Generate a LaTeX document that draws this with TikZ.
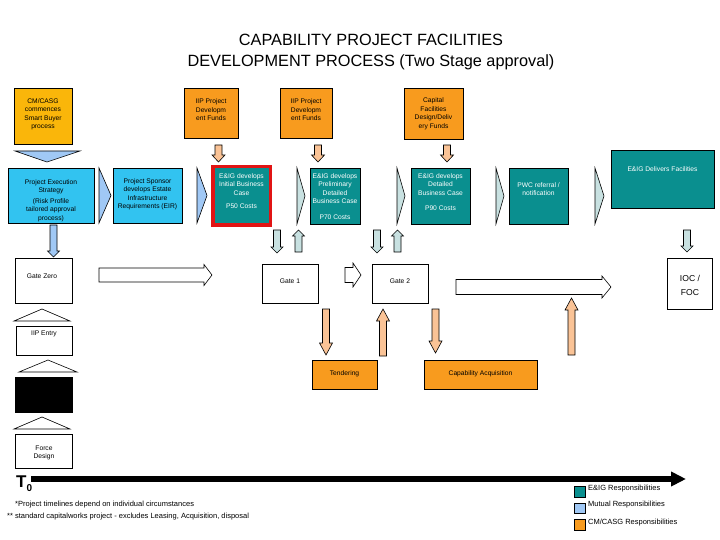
\documentclass[tikz,border=0pt]{standalone}
\usepackage{fontspec}
\setmainfont{Liberation Sans}
\usetikzlibrary{fit,arrows.meta}
\definecolor{teal1}{RGB}{10,143,143}
\definecolor{cyan1}{RGB}{50,195,240}
\definecolor{lblue}{RGB}{160,200,245}
\definecolor{pteal}{RGB}{200,225,225}
\definecolor{peach}{RGB}{250,195,150}
\definecolor{orA}{RGB}{248,155,30}
\definecolor{orY}{RGB}{250,182,10}
\definecolor{redb}{RGB}{225,20,20}
\newcommand\sm{\fontsize{6.7}{8.5}\selectfont}
\newcommand\BArrV[7]{%
  \pgfmathsetmacro\baY{#4-sign(#4-#3)*#7}%
  \pgfmathsetmacro\baL{#2-#5/2}\pgfmathsetmacro\baR{#2+#5/2}%
  \pgfmathsetmacro\baHL{#2-#6/2}\pgfmathsetmacro\baHR{#2+#6/2}%
  \draw[#1] (\baL,#3) -- (\baL,\baY) -- (\baHL,\baY) -- (#2,#4) -- (\baHR,\baY) -- (\baR,\baY) -- (\baR,#3) -- cycle;}
\newcommand\BArrH[7]{%
  \pgfmathsetmacro\baX{#4-sign(#4-#3)*#7}%
  \pgfmathsetmacro\baT{#2-#5/2}\pgfmathsetmacro\baB{#2+#5/2}%
  \pgfmathsetmacro\baHT{#2-#6/2}\pgfmathsetmacro\baHB{#2+#6/2}%
  \draw[#1] (#3,\baT) -- (\baX,\baT) -- (\baX,\baHT) -- (#4,#2) -- (\baX,\baHB) -- (\baX,\baB) -- (#3,\baB) -- cycle;}
\begin{document}
\begin{tikzpicture}[x=1pt,y=-1pt,
  box/.style={draw=black, line width=0.6pt, inner sep=0pt},
  txt/.style={font=\sm, align=center, inner sep=0pt},
  wtxt/.style={txt, text=white},
  blk/.style={draw=black, line width=0.6pt},
  chevL/.style={blk, fill=lblue},
  chevT/.style={blk, fill=pteal}]
\useasboundingbox (0,0) rectangle (720,540);

% title
\node[font=\fontsize{16.3}{21}\selectfont, align=center, inner sep=0pt] (title) at (371,52)
  {CAPABILITY PROJECT FACILITIES\\DEVELOPMENT PROCESS (Two Stage approval)};

% top orange boxes
\node[box, fill=orY, fit={(14,88)(72,144)}] (cm) {};
\node[txt] (cmt) at (43,114.5) {CM/CASG\\commences\\Smart Buyer\\process};
\node[box, fill=orA, fit={(184,88)(238,138)}] (iip1) {};
\node[txt] (iip1t) at (211,110) {IIP Project\\Developm\\ent Funds};
\node[box, fill=orA, fit={(280,88)(332,138)}] (iip2) {};
\node[txt] (iip2t) at (306,110) {IIP Project\\Developm\\ent Funds};
\node[box, fill=orA, fit={(404,88)(463,139)}] (cap) {};
\node[txt] (capt) at (433.5,114) {Capital\\Facilities\\Design/Deliv\\ery Funds};

% peach arrows from top boxes
\BArrV{blk, fill=peach}{218.5}{145}{162}{7}{13}{7}
\BArrV{blk, fill=peach}{318}{145}{162}{7}{13}{7}
\BArrV{blk, fill=peach}{447}{145}{162}{7}{13}{7}

% light blue down triangle
\draw[blk, fill=lblue] (15,151) -- (80,151) -- (47,162) -- cycle;

% row 2
\node[box, fill=cyan1, fit={(8,168)(94,223)}] (pes) {};
\node[txt] (pest) at (51,200.5) {Project Execution\\Strategy\\[2pt](Risk Profile\\tailored approval\\process)};
\draw[chevL] (99,168) -- (111,195.5) -- (99,223) -- cycle;
\node[box, fill=cyan1, fit={(113,168)(182,223)}] (eir) {};
\node[txt] (eirt) at (147.5,194.5) {Project Sponsor\\develops Estate\\Infrastructure\\Requirements (EIR)};
\draw[chevL] (197,168) -- (207,195.5) -- (197,223) -- cycle;
\node[draw=redb, line width=3.5pt, fill=teal1, inner sep=0pt, fit={(212.75,166.75)(270.25,225.25)}] (ibc) {};
\node[wtxt] (ibct) at (241.5,191) {E\&IG develops\\Initial Business\\Case\\[4.5pt]P50 Costs};
\draw[chevT] (297,168) -- (305,196) -- (297,224) -- cycle;
\node[box, fill=teal1, fit={(310,168)(360,224)}] (pre) {};
\node[wtxt] (pret) at (335,196.5) {E\&IG develops\\Preliminary\\Detailed\\Business Case\\[7.5pt]P70 Costs};
\draw[chevT] (397,168) -- (405,196) -- (397,224) -- cycle;
\node[box, fill=teal1, fit={(411,168)(470,224)}] (det) {};
\node[wtxt] (dett) at (440.5,192) {E\&IG develops\\Detailed\\Business Case\\[6.5pt]P90 Costs};
\draw[chevT] (496,168) -- (504,196) -- (496,224) -- cycle;
\node[box, fill=teal1, fit={(509,168)(568,224)}] (pwc) {};
\node[wtxt] (pwct) at (538.5,189) {PWC referral /\\notification};
\draw[chevT] (595,168) -- (604,196) -- (595,224) -- cycle;
\node[box, fill=teal1, fit={(611,150)(714,208)}] (del) {};
\node[wtxt] (delt) at (662.5,169) {E\&IG Delivers Facilities};

% row 3: gates
\BArrV{blk, fill=lblue}{53.5}{225}{257}{7}{12}{6}
\node[box, fill=white, fit={(15,258)(72,303)}] (g0) {};
\node[txt] (g0t) at (42,276) {Gate Zero};
\BArrH{blk, fill=white}{275}{99}{212}{14}{21}{8}
\BArrV{blk, fill=pteal}{277}{230}{253}{7}{12}{6}
\BArrV{blk, fill=pteal}{298.5}{252}{230}{7}{12}{6}
\node[box, fill=white, fit={(262,264)(318,303)}] (g1) {};
\node[txt] (g1t) at (290,281) {Gate 1};
\BArrH{blk, fill=white}{275}{345}{361}{15}{24}{8}
\BArrV{blk, fill=pteal}{377}{230}{253}{7}{12}{6}
\BArrV{blk, fill=pteal}{397.5}{252}{230}{7}{12}{6}
\node[box, fill=white, fit={(372,264)(428,303)}] (g2) {};
\node[txt] (g2t) at (400,281) {Gate 2};
\BArrH{blk, fill=white}{287}{456}{611}{15}{22}{9}
\BArrV{blk, fill=pteal}{687}{230}{252}{7}{12}{6}
\node[box, fill=white, fit={(667,258)(712,309)}] (ioc) {};
\node[font=\fontsize{8.6}{14}\selectfont, align=center, inner sep=0pt] (ioct) at (690,285) {IOC /\\FOC};

% left column
\draw[blk, fill=white] (14,321) -- (42,309) -- (70,321) -- cycle;
\node[box, fill=white, fit={(16,326)(72,355)}] (iipe) {};
\node[txt] (iipet) at (44,334) {IIP Entry};
\draw[blk, fill=white] (19,372) -- (48,360) -- (77,372) -- cycle;
\node[box, fill=black, fit={(15,377)(72,412)}] (blkbox) {};
\draw[blk, fill=white] (14,429) -- (42,417) -- (70,429) -- cycle;
\node[box, fill=white, fit={(15,434)(72,468)}] (fd) {};
\node[txt] (fdt) at (44,453) {Force\\Design};

% peach arrows row 4
\BArrV{blk, fill=peach}{326}{309}{355}{7}{13}{12}
\BArrV{blk, fill=peach}{383}{356}{309}{7}{13}{12}
\BArrV{blk, fill=peach}{435.5}{309}{353}{7}{13}{12}
\BArrV{blk, fill=peach}{571.5}{355}{298}{7}{13}{12}
\node[box, fill=orA, fit={(312,360)(377,389)}] (tend) {};
\node[txt] (tendt) at (344.5,374) {Tendering};
\node[box, fill=orA, fit={(424,360)(537,389)}] (capacq) {};
\node[txt] (capacqt) at (480.5,374) {Capability Acquisition};

% timeline
\node[anchor=west, inner sep=0pt] (t0) at (16,484) {{\fontsize{17}{17}\selectfont\bfseries T}\raisebox{-4pt}{\fontsize{10}{10}\selectfont\bfseries 0}};
\coordinate (tls) at (31,479);
\coordinate (tle) at (686,479);
\draw[line width=6pt, -{Triangle[length=15pt,width=14pt]}] (tls) -- (tle);

% footnotes
\node[anchor=west, inner sep=0pt, font=\fontsize{7.5}{9}\selectfont] (fn1) at (15,505) {*Project timelines depend on individual circumstances};
\node[anchor=west, inner sep=0pt, font=\fontsize{7.5}{9}\selectfont] (fn2) at (7,517) {** standard capitalworks project - excludes Leasing, Acquisition, disposal};

% legend
\node[box, fill=teal1, fit={(574,486)(585,497)}] (lg1) {};
\node[anchor=west, inner sep=0pt, font=\fontsize{7.5}{9}\selectfont] (lg1t) at (588,488.5) {E\&IG Responsibilities};
\node[box, fill=lblue, fit={(574,503)(585,513)}] (lg2) {};
\node[anchor=west, inner sep=0pt, font=\fontsize{7.5}{9}\selectfont] (lg2t) at (588,505) {Mutual Responsibilities};
\node[box, fill=orA, fit={(574,519)(585,530)}] (lg3) {};
\node[anchor=west, inner sep=0pt, font=\fontsize{7.5}{9}\selectfont] (lg3t) at (588,522.5) {CM/CASG Responsibilities};
\end{tikzpicture}
\end{document}
